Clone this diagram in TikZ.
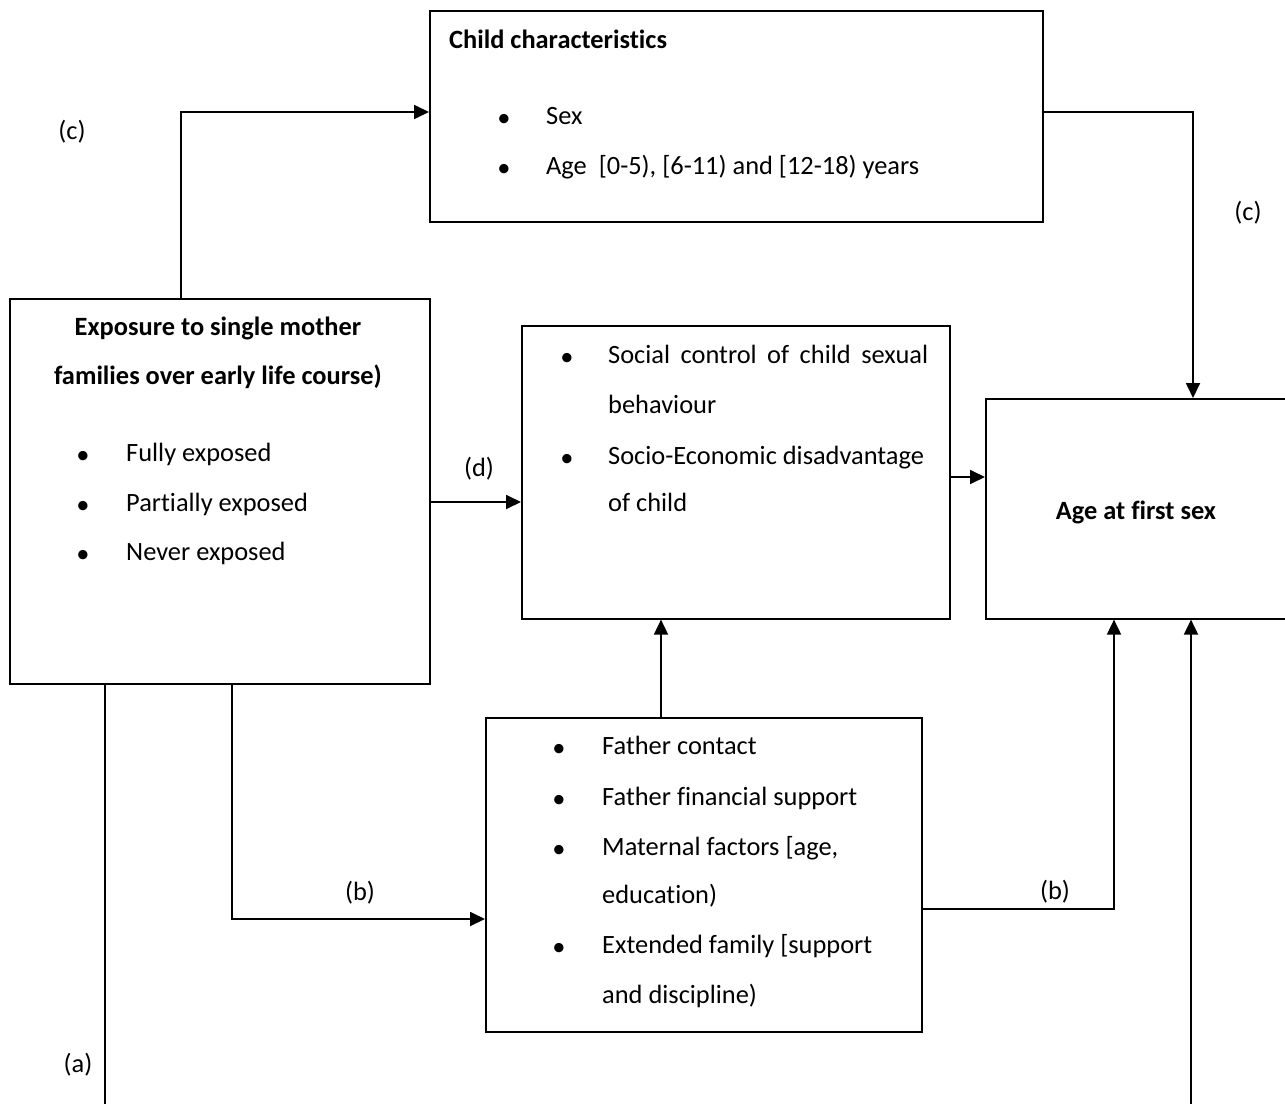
\documentclass[tikz,border=0pt]{standalone}
\usepackage{fontspec}
\setmainfont[Ligatures=NoCommon]{Carlito}
\usetikzlibrary{arrows.meta}
\begin{document}
\begin{tikzpicture}[x=1pt,y=-1pt,
  box/.style={draw, line width=1.6pt, inner sep=0pt, anchor=north west},
  arr/.style={line width=1.8pt, -{Triangle[length=15pt,width=14pt]}},
  ln/.style={line width=1.8pt},
  txt/.style={anchor=mid west, inner sep=0pt, font=\fontsize{26.4}{31}\selectfont},
  btxt/.style={anchor=mid, inner sep=0pt, font=\fontsize{26.4}{31}\selectfont\bfseries},
  bul/.style={inner sep=0pt, font=\fontsize{26.4}{31}\selectfont},
  lbl/.style={inner sep=0pt, font=\fontsize{26.4}{31}\selectfont}]
\useasboundingbox (0,0) rectangle (1285,1103);

% boxes
\node[box, minimum width=613pt, minimum height=211pt] (child) at (429,10) {};
\node[box, minimum width=420pt, minimum height=385pt] (expo) at (9,298) {};
\node[box, minimum width=428pt, minimum height=293pt] (mid) at (521,325) {};
\node[box, minimum width=310pt, minimum height=220pt] (age) at (985,398) {};
\node[box, minimum width=436pt, minimum height=314pt] (father) at (485,717) {};

% child characteristics
\node[txt, font=\fontsize{26.4}{31}\selectfont\bfseries] (tchild) at (449,46) {Child characteristics};
\node[bul] (bc1) at (504,120) {•};
\node[txt] (tc1) at (546,122) {Sex};
\node[bul] (bc2) at (504,170) {•};
\node[txt] (tc2) at (546,172) {Age\ \ [0-5), [6-11) and [12-18) years};

% exposure
\node[btxt] (te1) at (218,333) {Exposure to single mother};
\node[btxt] (te2) at (218,382) {families over early life course)};
\node[bul] (be1) at (83,457) {•};
\node[txt] (tf1) at (126,459) {Fully exposed};
\node[bul] (be2) at (83,507) {•};
\node[txt] (tf2) at (126,509) {Partially exposed};
\node[bul] (be3) at (83,556) {•};
\node[txt] (tf3) at (126,558) {Never exposed};

% mediators
\node[bul] (bm1) at (567,359) {•};
\node[txt] (tm1) at (608,361) {\makebox[320pt][s]{Social control of child sexual}};
\node[txt] (tm2) at (608,411) {behaviour};
\node[bul] (bm2) at (567,460) {•};
\node[txt] (tm3) at (608,462) {Socio-Economic disadvantage};
\node[txt] (tm4) at (608,509) {of child};

% outcome
\node[btxt] (tage) at (1136,517) {Age at first sex};

% father box
\node[bul] (bf1) at (559,750) {•};
\node[txt] (tp1) at (602,752) {Father contact};
\node[bul] (bf2) at (559,801) {•};
\node[txt] (tp2) at (602,803) {Father financial support};
\node[bul] (bf3) at (559,851) {•};
\node[txt] (tp3) at (602,853) {Maternal factors [age,};
\node[txt] (tp4) at (602,901) {education)};
\node[bul] (bf4) at (559,949) {•};
\node[txt] (tp5) at (602,951) {Extended family [support};
\node[txt] (tp6) at (602,1001) {and discipline)};

% connectors
\coordinate (cTL) at (181,112);
\draw[arr] (cTL |- expo.north) -- (cTL) -- (cTL -| child.west);
\coordinate (cTR) at (1193,112);
\draw[arr] (cTR -| child.east) -- (cTR) -- (cTR |- age.north);
\coordinate (dY) at (470,502);
\draw[arr] (dY -| expo.east) -- (dY -| mid.west);
\coordinate (mY) at (965,477);
\draw[arr] (mY -| mid.east) -- (mY -| age.west);
\coordinate (fX) at (661,660);
\draw[arr] (fX |- father.north) -- (fX |- mid.south);
\coordinate (bL) at (232,919);
\draw[arr] (bL |- expo.south) -- (bL) -- (bL -| father.west);
\coordinate (bR) at (1114,909);
\draw[arr] (bR -| father.east) -- (bR) -- (bR |- age.south);
\coordinate (aEnd) at (105,1108);
\draw[ln] (aEnd |- expo.south) -- (aEnd);
\coordinate (eEnd) at (1191,1108);
\draw[arr] (eEnd) -- (eEnd |- age.south);

% labels
\node[lbl] (lc1) at (72,132) {(c)};
\node[lbl] (lc2) at (1248,213) {(c)};
\node[lbl] (ld) at (479,469) {(d)};
\node[lbl] (lb1) at (360,893) {(b)};
\node[lbl] (lb2) at (1055,892) {(b)};
\node[lbl] (la) at (78,1065) {(a)};
\end{tikzpicture}
\end{document}
